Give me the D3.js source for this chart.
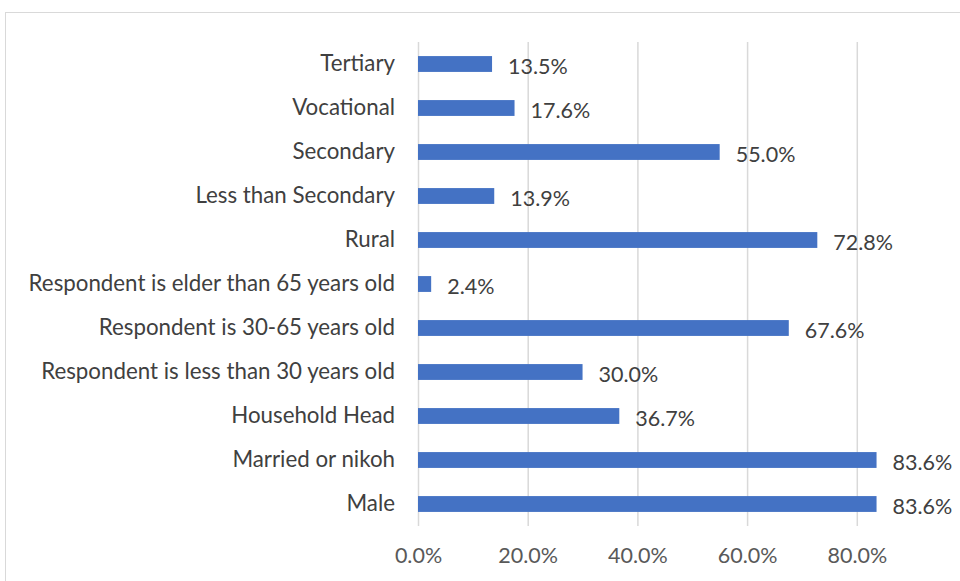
<!DOCTYPE html>
<html><head><meta charset="utf-8">
<script src="https://cdn.jsdelivr.net/npm/d3@7"></script>
<style>body{margin:0;background:#fff}svg{display:block}</style>
</head><body>
<script>
const categories = ["Tertiary","Vocational","Secondary","Less than Secondary","Rural","Respondent is elder than 65 years old","Respondent is 30-65 years old","Respondent is less than 30 years old","Household Head","Married or nikoh","Male"];
const values = [0.135,0.176,0.55,0.139,0.728,0.024,0.676,0.30,0.367,0.836,0.836];
const tickValues = [0,0.2,0.4,0.6,0.8];

const W=960,H=581;
const svg=d3.select("body").append("svg").attr("width",W).attr("height",H);
const font="Lato, 'Open Sans', sans-serif";
svg.append("rect").attr("x",5.5).attr("y",12.5).attr("width",W).attr("height",H).attr("fill","#fff").attr("stroke","#d9d9d9");

const x=d3.scaleLinear().domain([0,1]).range([418,966.5]);
const y=d3.scaleBand().domain(categories).range([42,526]).paddingInner(0.64).paddingOuter(0.32);

const grid=svg.append("g").attr("transform","translate(0,526)")
  .call(d3.axisBottom(x).tickValues(tickValues).tickSize(-484).tickFormat(d3.format(".1%")));
grid.select(".domain").remove();
grid.selectAll(".tick line").attr("stroke","#d9d9d9").attr("stroke-width",1.5);
grid.selectAll(".tick text").attr("fill","#595959").attr("font-family",font).attr("font-size",21.5).attr("dy","0.71em").attr("y",22);

svg.append("g").selectAll("rect").data(categories).join("rect")
  .attr("x",x(0)).attr("y",d=>y(d)).attr("height",y.bandwidth())
  .attr("width",(d,i)=>x(values[i])-x(0)).attr("fill","#4472C4");

const yAxis=svg.append("g").attr("transform","translate(418,0)")
  .call(d3.axisLeft(y).tickSize(0).tickPadding(23));
yAxis.select(".domain").remove();
yAxis.selectAll("text").attr("fill","#404040").attr("font-family",font).attr("font-size",22.3);

svg.append("g").selectAll("text").data(categories).join("text")
  .attr("x",(d,i)=>x(values[i])+16).attr("y",d=>y(d)+y.bandwidth()/2+2)
  .attr("dy","0.35em").attr("fill","#404040").attr("font-family",font).attr("font-size",21.5)
  .text((d,i)=>d3.format(".1%")(values[i]));
</script>
</body></html>
